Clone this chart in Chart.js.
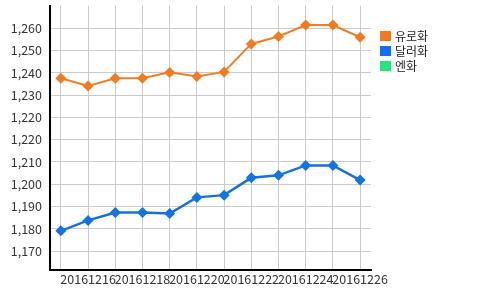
<!DOCTYPE html>
<html>
<head>
<meta charset="utf-8">
<script src="https://cdn.jsdelivr.net/npm/chart.js@4"></script>
<style>
    body { margin: 0; background: #fff; }
</style>
</head>
<body>
<canvas id="myChart" width="500" height="290"></canvas>
<script>
const dates = ['20161215', '20161216', '20161217', '20161218', '20161219', '20161220',
    '20161221', '20161222', '20161223', '20161224', '20161225', '20161226']
const euro = [1240.3, 1237.2, 1240.3, 1240.3, 1242.7, 1241.0, 1242.9, 1254.2, 1257.2, 1261.8, 1261.8, 1256.9]
const dollar = [1178.7, 1182.9, 1186.1, 1186.1, 1185.7, 1192.2, 1193.1, 1200.1, 1201.1, 1205.1, 1205.1, 1199.2]
const yen = []
const seriesNames = ['유로화', '달러화', '엔화']
const yTickValues = [1170.5, 1179.5, 1188.5, 1197.5, 1206.5, 1215.5, 1224.5, 1233.5, 1242.5, 1251.5, 1260.5]
const yTickLabels = ['1,170', '1,180', '1,190', '1,200', '1,210', '1,220', '1,220', '1,230', '1,240', '1,250', '1,260']

const FONT = '"Noto Sans CJK KR", "Noto Sans", sans-serif'

// legend drawn at top right, beside the plot
const sideLegend = {
    id: 'sideLegend',
    afterDraw(chart) {
        const ctx = chart.ctx
        ctx.save()
        ctx.font = '12px ' + FONT
        ctx.textBaseline = 'middle'
        chart.data.datasets.forEach((ds, i) => {
            const y = 31 + i * 15
            ctx.fillStyle = ds.legendColor
            ctx.fillRect(380, y, 11, 10)
            ctx.fillStyle = '#222'
            ctx.fillText(ds.label, 395, y + 5)
        })
        ctx.restore()
    },
}

function render_chart() {
    const toPoints = (vals) => vals.map((v, i) => ({ x: i, y: v }))

    const data = {
        datasets: [
            {
                label: seriesNames[0],
                data: toPoints(euro),
                borderColor: '#ea8128',
                backgroundColor: '#f47a1e',
                legendColor: '#f47a1e',
                borderWidth: 2,
                pointStyle: 'rectRot',
                pointRadius: 5.5,
                pointBorderWidth: 0,
            },
            {
                label: seriesNames[1],
                data: toPoints(dollar),
                borderColor: '#1a70d8',
                backgroundColor: '#1273e4',
                legendColor: '#0f6efc',
                borderWidth: 2.5,
                pointStyle: 'rectRot',
                pointRadius: 5.5,
                pointBorderWidth: 0,
            },
            {
                label: seriesNames[2],
                data: toPoints(yen),
                borderColor: '#1ee87a',
                backgroundColor: '#1ee87a',
                legendColor: '#1ee87a',
            },
        ],
    }

    const config = {
        type: 'line',
        data: data,
        plugins: [sideLegend],
        options: {
            responsive: false,
            animation: false,
            layout: { padding: { left: 0, top: 0, right: 129, bottom: 0 } },
            plugins: {
                legend: { display: false },
                tooltip: { enabled: false },
            },
            scales: {
                x: {
                    type: 'linear',
                    min: -0.4,
                    max: 11.4,
                    afterBuildTicks: (scale) => {
                        scale.ticks = dates.map((d, i) => ({ value: i }))
                    },
                    afterFit: (scale) => {
                        scale.height = 20
                        scale.paddingLeft = 0
                        scale.paddingRight = 0
                    },
                    grid: { color: '#cacaca', drawTicks: false },
                    border: { display: true, color: '#000', width: 2 },
                    ticks: {
                        autoSkip: false,
                        maxRotation: 0,
                        minRotation: 0,
                        padding: 2,
                        color: '#333',
                        font: { family: FONT, size: 12.5 },
                        callback: (v) => (v % 2 === 1 ? dates[v] : ''),
                    },
                },
                y: {
                    min: 1162.86,
                    max: 1269.72,
                    afterBuildTicks: (scale) => {
                        scale.ticks = yTickValues.map((v) => ({ value: v }))
                    },
                    afterFit: (scale) => {
                        scale.width = 50
                        scale.paddingTop = 0
                        scale.paddingBottom = 0
                    },
                    grid: { color: '#cacaca', drawTicks: false },
                    border: { display: true, color: '#000', width: 2 },
                    ticks: {
                        padding: 8,
                        color: '#333',
                        font: { family: FONT, size: 12.5 },
                        callback: (v, i) => yTickLabels[i],
                    },
                },
            },
        },
    }

    const myChart = new Chart(document.getElementById('myChart'), config)
}

document.addEventListener('DOMContentLoaded', render_chart)
</script>
</body>
</html>
